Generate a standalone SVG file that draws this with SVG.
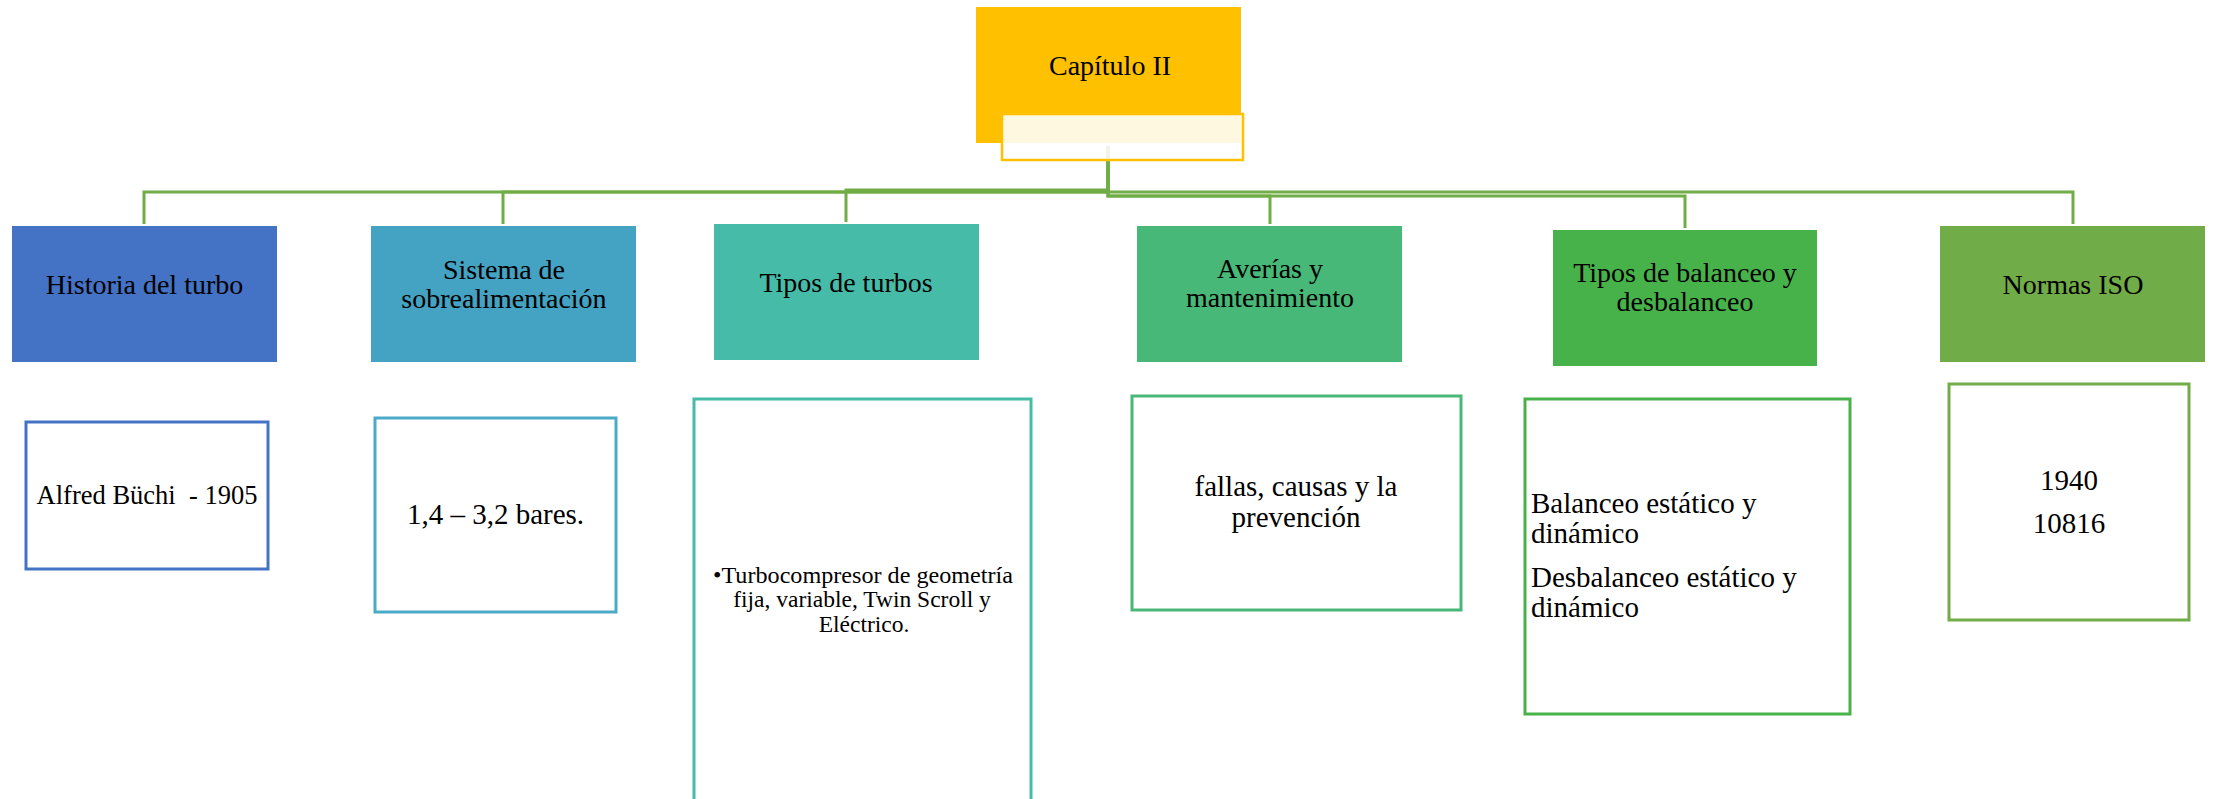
<svg xmlns="http://www.w3.org/2000/svg" width="2220" height="799" viewBox="0 0 2220 799">
<style>
  text { font-family: "Liberation Serif", "Times New Roman", serif; fill: #000; }
  .h { font-size: 28px; text-anchor: middle; }
  .b { text-anchor: middle; }
  .conn { fill: none; stroke: #70ad47; stroke-width: 3; }
  .sub { fill: #fff; stroke-width: 3; }
</style>
<rect width="2220" height="799" fill="#fff"/>
<g id="connectors">
  <path class="conn" d="M1108,146 V192 H144 V224"/>
  <path class="conn" d="M1108,146 V192 H503 V224"/>
  <path class="conn" d="M1108,146 V190 H846 V222"/>
  <path class="conn" d="M1108,146 V196 H1270 V224"/>
  <path class="conn" d="M1108,146 V196 H1685 V228"/>
  <path class="conn" d="M1108,146 V192 H2073 V224"/>
</g>
<g id="capitulo">
  <rect x="976" y="7" width="265" height="136" fill="#ffc000"/>
  <rect x="1002" y="114" width="241" height="46" fill="#fff" fill-opacity="0.88" stroke="#ffc000" stroke-width="2.5"/>
  <text class="h" x="1110" y="75">Capítulo II</text>
</g>
<g id="historia">
  <rect x="12" y="226" width="265" height="136" fill="#4472c4"/>
  <text class="h" x="144.5" y="294">Historia del turbo</text>
</g>
<g id="sistema">
  <rect x="371" y="226" width="265" height="136" fill="#44a2c2"/>
  <text class="h" x="504" y="279">Sistema de</text>
  <text class="h" x="504" y="308">sobrealimentación</text>
</g>
<g id="tipos">
  <rect x="714" y="224" width="265" height="136" fill="#46bca8"/>
  <text class="h" x="846" y="292">Tipos de turbos</text>
</g>
<g id="averias">
  <rect x="1137" y="226" width="265" height="136" fill="#48b878"/>
  <text class="h" x="1270" y="278">Averías y</text>
  <text class="h" x="1270" y="307">mantenimiento</text>
</g>
<g id="balanceo">
  <rect x="1553" y="230" width="264" height="136" fill="#48b24a"/>
  <text class="h" x="1685" y="282">Tipos de balanceo y</text>
  <text class="h" x="1685" y="311">desbalanceo</text>
</g>
<g id="normas">
  <rect x="1940" y="226" width="265" height="136" fill="#70ac47"/>
  <text class="h" x="2073" y="294">Normas ISO</text>
</g>
<g id="historia-detalle">
  <rect class="sub" x="26" y="422" width="242" height="147" stroke="#4472c4"/>
  <text class="b" x="147" y="504" font-size="26.5" xml:space="preserve">Alfred Büchi  - 1905</text>
</g>
<g id="sistema-detalle">
  <rect class="sub" x="375" y="418" width="241" height="194" stroke="#4aaac8"/>
  <text class="b" x="495.5" y="524" font-size="29">1,4 – 3,2 bares.</text>
</g>
<g id="tipos-detalle">
  <rect class="sub" x="694" y="399" width="337" height="420" stroke="#46bca8"/>
  <text class="b" x="863" y="583" font-size="23.5" textLength="300" lengthAdjust="spacingAndGlyphs">•Turbocompresor de geometría</text>
  <text class="b" x="862" y="607" font-size="23.5">fija, variable, Twin Scroll y</text>
  <text class="b" x="864" y="632" font-size="23.5">Eléctrico.</text>
</g>
<g id="averias-detalle">
  <rect class="sub" x="1132" y="396" width="329" height="214" stroke="#48b878"/>
  <text class="b" x="1296" y="496" font-size="29">fallas, causas y la</text>
  <text class="b" x="1296" y="527" font-size="29">prevención</text>
</g>
<g id="balanceo-detalle">
  <rect class="sub" x="1525" y="399" width="325" height="315" stroke="#48b24a"/>
  <text x="1531" y="513" font-size="29">Balanceo estático y</text>
  <text x="1531" y="543" font-size="29">dinámico</text>
  <text x="1531" y="587" font-size="29">Desbalanceo estático y</text>
  <text x="1531" y="617" font-size="29">dinámico</text>
</g>
<g id="normas-detalle">
  <rect class="sub" x="1949" y="384" width="240" height="236" stroke="#70ad47"/>
  <text class="b" x="2069" y="490" font-size="29">1940</text>
  <text class="b" x="2069" y="533" font-size="29">10816</text>
</g>
</svg>
